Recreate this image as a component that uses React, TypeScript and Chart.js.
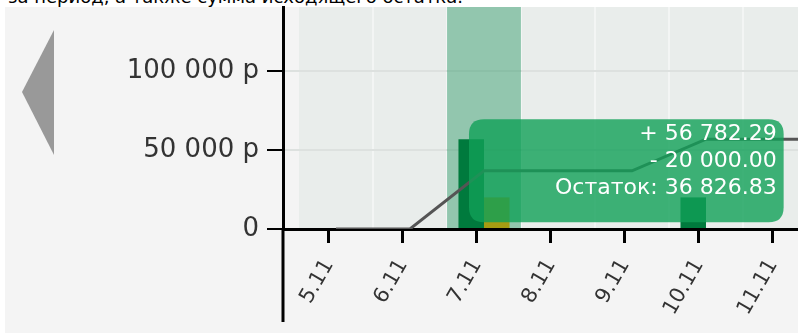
import React, { useEffect, useRef } from 'react';
import { Chart, registerables, Tooltip } from 'chart.js';

Chart.register(...registerables);

// ---- data ----
const DAYS = [5, 6, 7, 8, 9, 10, 11, 12];
const DAY_LABELS = ['5.11', '6.11', '7.11', '8.11', '9.11', '10.11', '11.11', '12.11'];
const INCOME: (number | null)[] = [null, null, 56782.29, null, null, 20000, null, null];
const EXPENSE: (number | null)[] = [null, null, 20000, null, null, null, null, null];
const BALANCE: number[] = [44.54, 44.54, 36826.83, 36826.83, 36826.83, 56826.83, 56826.83, 56826.83];
const Y_TICKS = [0, 50000, 100000];
const ACTIVE_INDEX = 2; // hovered day: 7.11
const HEADER_TEXT = 'за период, а также сумма исходящего остатка.';
const CURRENCY = 'р';
const BALANCE_LABEL = 'Остаток';

// ---- view settings ----
const FONT = "'DejaVu Sans', Verdana, sans-serif";
const X_MIN = 4.284;
const X_MAX = 11.243;
const Y_MAX = 140500;
const TICK_SHIFT = 0.095;
const TIP_RADIUS = 15;

const groupDigits = (s: string) => s.replace(/\B(?=(\d{3})+(?!\d))/g, ' ');
const fmtMoney = (n: number) => {
  const [i, d] = Math.abs(n).toFixed(2).split('.');
  return groupDigits(i) + '.' + d;
};

(Tooltip as any).positioners.balance = function (items: any[]) {
  if (!items || !items.length) return false;
  const it = items.find((i) => i.datasetIndex === 2) || items[0];
  return { x: it.element.x - TIP_RADIUS, y: it.element.y, xAlign: 'left', yAlign: 'center' };
};

const decorPlugin = {
  id: 'decor',
  beforeDraw(chart: any) {
    const { ctx, chartArea, scales } = chart;
    const x = scales.x;
    const left = x.getPixelForValue(DAYS[0] - 0.5);
    ctx.save();
    ctx.fillStyle = '#e9edeb';
    ctx.fillRect(left, chartArea.top, chartArea.right - left, chartArea.bottom - chartArea.top);
    ctx.restore();
  },
  beforeDatasetsDraw(chart: any) {
    const { ctx, chartArea, scales } = chart;
    const x = scales.x;
    const d = DAYS[ACTIVE_INDEX];
    const l = x.getPixelForValue(d - 0.5);
    const r = x.getPixelForValue(d + 0.5);
    ctx.save();
    ctx.fillStyle = 'rgba(40,150,100,0.45)';
    ctx.fillRect(l, chartArea.top, r - l, chartArea.bottom - chartArea.top);
    ctx.restore();
  },
  beforeDatasetDraw(chart: any, args: any) {
    if (args.meta.type === 'line') {
      chart.scales.x.drawBorder();
    }
  },
  afterDatasetsDraw(chart: any) {
    const { ctx, chartArea } = chart;
    ctx.save();
    ctx.strokeStyle = '#000';
    ctx.lineWidth = 3;
    ctx.beginPath();
    ctx.moveTo(chartArea.left, chartArea.bottom);
    ctx.lineTo(chartArea.left, chartArea.bottom + 93);
    ctx.stroke();
    ctx.restore();
  },
};

export default function App() {
  const ref = useRef<HTMLCanvasElement>(null);

  useEffect(() => {
    const canvas = ref.current;
    if (!canvas) return;
    const chart = new Chart(canvas, {
      data: {
        datasets: [
          {
            type: 'bar',
            label: 'income',
            data: DAYS.map((d, i) => ({ x: d, y: INCOME[i] })) as any,
            backgroundColor: '#007a3d',
            categoryPercentage: 0.69,
            barPercentage: 1,
            order: 2,
          },
          {
            type: 'bar',
            label: 'expense',
            data: DAYS.map((d, i) => ({ x: d, y: EXPENSE[i] })) as any,
            backgroundColor: '#a69c12',
            categoryPercentage: 0.69,
            barPercentage: 1,
            order: 2,
          },
          {
            type: 'line',
            label: 'balance',
            data: DAYS.map((d, i) => ({ x: d, y: BALANCE[i] })) as any,
            borderColor: '#555',
            borderWidth: 3,
            pointRadius: 0,
            tension: 0,
            order: 1,
          },
        ],
      } as any,
      options: {
        responsive: false,
        animation: false,
        devicePixelRatio: 1,
        events: [],
        layout: { padding: { top: 7, left: 0, right: 0, bottom: 0 } },
        scales: {
          x: {
            type: 'linear',
            position: 'bottom',
            offset: false,
            min: X_MIN,
            max: X_MAX,
            afterBuildTicks: (s: any) => {
              s.ticks = DAYS.map((d) => d - TICK_SHIFT)
                .filter((v) => v >= X_MIN && v <= X_MAX)
                .map((v) => ({ value: v }));
            },
            afterFit: (s: any) => {
              s.height = 104;
              s.paddingLeft = 0;
              s.paddingRight = 0;
            },
            ticks: {
              autoSkip: false,
              minRotation: 60,
              maxRotation: 60,
              padding: 12,
              color: '#333',
              font: { family: FONT, size: 21 },
              callback: (v: any) => DAY_LABELS[DAYS.indexOf(Math.round(Number(v) + TICK_SHIFT))] ?? '',
            },
            grid: { offset: false, drawOnChartArea: false, tickLength: 14, tickColor: '#000', tickWidth: 3 },
            border: { color: '#000', width: 3 },
          },
          xg: {
            type: 'linear',
            position: 'top',
            offset: false,
            min: X_MIN,
            max: X_MAX,
            afterBuildTicks: (s: any) => {
              s.ticks = DAYS.map((d) => d + 0.5)
                .filter((v) => v >= X_MIN && v <= X_MAX)
                .map((v) => ({ value: v }));
            },
            afterFit: (s: any) => {
              s.height = 0;
              s.paddingLeft = 0;
              s.paddingRight = 0;
            },
            ticks: { display: false },
            grid: { offset: false, color: '#f3f5f4', lineWidth: 2, drawTicks: false },
            border: { display: false },
          },
          y: {
            type: 'linear',
            min: 0,
            max: Y_MAX,
            afterBuildTicks: (s: any) => {
              s.ticks = Y_TICKS.map((v) => ({ value: v }));
            },
            afterFit: (s: any) => {
              s.width = 283;
              s.paddingTop = 0;
              s.paddingBottom = 0;
            },
            ticks: {
              padding: 8,
              color: '#333',
              font: { family: FONT, size: 26 },
              callback: (v: any) => (Number(v) === 0 ? '0' : groupDigits(String(v)) + ' ' + CURRENCY),
            },
            grid: { color: '#dde1df', lineWidth: 2, tickLength: 16, tickColor: '#000', tickWidth: 2 },
            border: { color: '#000', width: 3 },
          },
        },
        plugins: {
          legend: { display: false },
          tooltip: {
            enabled: true,
            position: 'balance' as any,
            xAlign: 'left',
            yAlign: 'center',
            backgroundColor: 'rgba(16,160,88,0.8)',
            bodyColor: '#fff',
            bodyFont: { family: FONT, size: 22, lineHeight: 1.2 },
            bodyAlign: 'right',
            bodySpacing: 0.35,
            padding: { top: 2, right: 7, bottom: 21, left: 86 } as any,
            cornerRadius: TIP_RADIUS,
            caretSize: 0,
            caretPadding: 0,
            displayColors: false,
            borderWidth: 0,
            callbacks: {
              title: () => '',
              label: (ctx: any) => {
                const v = ctx.parsed.y;
                if (ctx.datasetIndex === 0) return '+ ' + fmtMoney(v);
                if (ctx.datasetIndex === 1) return '- ' + fmtMoney(v);
                return BALANCE_LABEL + ': ' + fmtMoney(v);
              },
            },
          },
        },
      } as any,
      plugins: [decorPlugin],
    });

    const series = [INCOME, EXPENSE, BALANCE];
    const active = [0, 1, 2]
      .filter((di) => series[di][ACTIVE_INDEX] != null)
      .map((di) => ({ datasetIndex: di, index: ACTIVE_INDEX }));
    chart.tooltip?.setActiveElements(active, { x: 0, y: 0 });
    chart.draw();

    return () => chart.destroy();
  }, []);

  return (
    <div
      style={{
        position: 'absolute',
        left: 0,
        top: 0,
        width: 798,
        height: 333,
        overflow: 'hidden',
        background: '#fff',
      }}
    >
      <div
        style={{
          position: 'absolute',
          right: 335,
          top: -12,
          whiteSpace: 'nowrap',
          font: "18px/18px 'DejaVu Sans', sans-serif",
          color: '#000',
        }}
      >
        {HEADER_TEXT}
      </div>
      <div style={{ position: 'absolute', left: 5, top: 7, right: 0, bottom: 0, background: '#f4f4f4' }} />
      <svg style={{ position: 'absolute', left: 0, top: 0 }} width={60} height={160}>
        <polygon points="22,92 54,30 54,155" fill="#999" />
      </svg>
      <canvas ref={ref} width={798} height={333} style={{ position: 'absolute', left: 0, top: 0 }} />
    </div>
  );
}
